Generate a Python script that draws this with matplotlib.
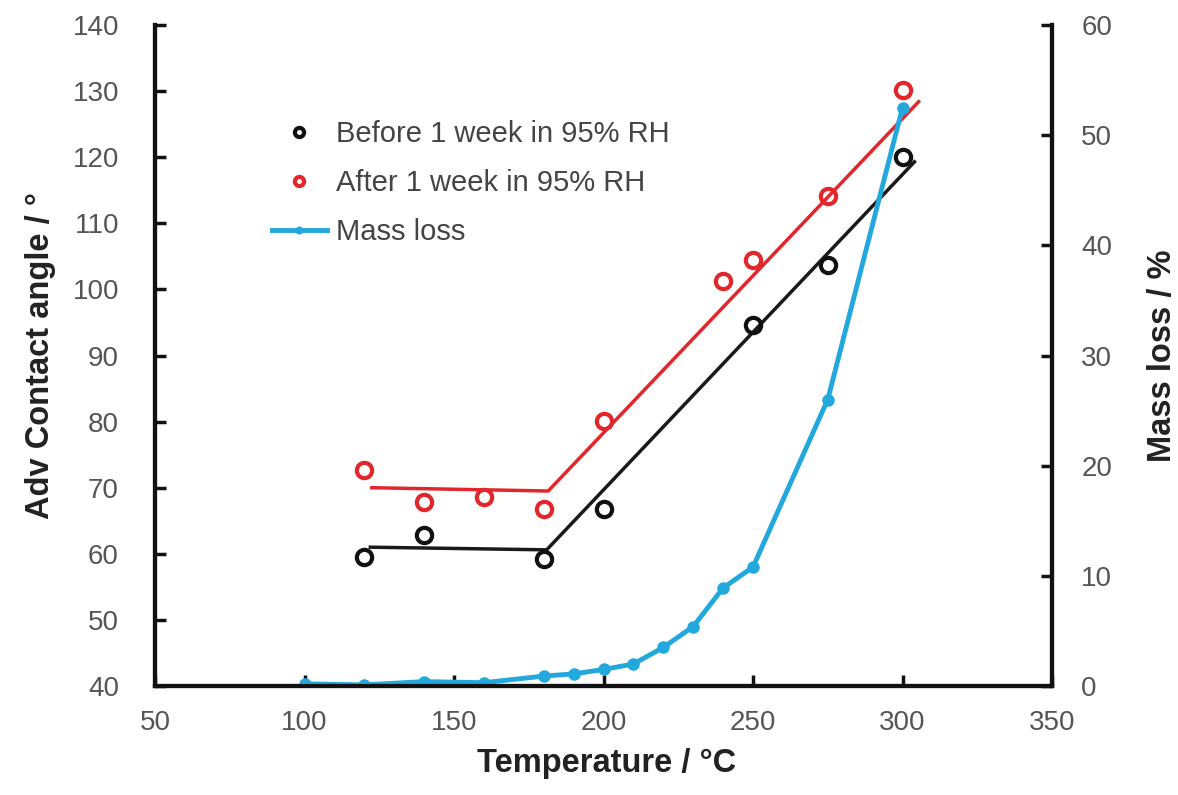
import matplotlib.pyplot as plt
import numpy as np

plt.rcParams['font.family'] = ['Liberation Sans', 'DejaVu Sans']

# contact angle data
temp_pts = [120, 140, 180, 200, 250, 275, 300]
before = [59.5, 62.8, 59.2, 66.8, 94.6, 103.7, 120.0]
temp_after = [120, 140, 160, 180, 200, 240, 250, 275, 300]
after = [72.7, 67.8, 68.6, 66.8, 80.1, 101.3, 104.4, 114.1, 130.2]

# fitted trend lines (vertices)
fit_before_x = [122, 181, 304]
fit_before_y = [61.0, 60.6, 119.3]
fit_after_x = [122.5, 181.5, 305.4]
fit_after_y = [70.0, 69.5, 128.4]

# mass loss data
temp_mass = [100, 120, 140, 160, 180, 190, 200, 210, 220, 230, 240, 250, 275, 300]
mass_loss = [0.2, 0.1, 0.4, 0.3, 0.9, 1.1, 1.5, 2.0, 3.5, 5.4, 8.9, 10.8, 26.0, 52.5]

red = '#e3262b'
blue = '#23a8dd'
tick_col = '#555555'

fig = plt.figure(figsize=(11.78, 7.95), dpi=100)
ax = fig.add_axes([155 / 1178, 109 / 795, 897 / 1178, 661 / 795])
ax2 = ax.twinx()

ax.plot(fit_after_x, fit_after_y, color=red, lw=2.5, zorder=2)
ax.plot(fit_before_x, fit_before_y, color='#1a1a1a', lw=2.5, zorder=2)
h1, = ax.plot(temp_pts, before, 'o', ms=11, mfc='none', mec='#111111', mew=3,
              label='Before 1 week in 95% RH', zorder=3)
h2, = ax.plot(temp_after, after, 'o', ms=11, mfc='none', mec=red, mew=3,
              label='After 1 week in 95% RH', zorder=3)
h3, = ax2.plot(temp_mass, mass_loss, '-o', color=blue, lw=3.5, ms=8,
               label='Mass loss')

ax.set_xlim(50, 350)
ax.set_ylim(40, 140)
ax2.set_ylim(0, 60)
ax.set_xticks(np.arange(50, 351, 50))
ax.set_yticks(np.arange(40, 141, 10))
ax2.set_yticks(np.arange(0, 61, 10))

for a in (ax, ax2):
    a.spines['top'].set_visible(False)
    for s in a.spines.values():
        s.set_linewidth(3)
        s.set_color('#111111')
    a.tick_params(direction='in', length=8, width=2.5, colors='#111111',
                  labelcolor=tick_col, labelsize=20)
ax.tick_params(axis='y', pad=26)
ax.tick_params(axis='x', pad=17)
ax2.tick_params(axis='y', pad=21)

ax.set_xlabel('Temperature / \u00b0C', fontsize=23.5, fontweight='bold',
              color='#222222')
ax.set_ylabel('Adv Contact angle / \u00b0', fontsize=23.5, fontweight='bold',
              color='#222222')
ax2.set_ylabel('Mass loss / %', fontsize=23.5, fontweight='bold',
               color='#222222')
ax.xaxis.set_label_coords(0.503, -0.094)
ax.yaxis.set_label_coords(-0.110, 0.5)
ax2.yaxis.set_label_coords(1.106, 0.5)

ax.legend(handles=[h1, h2, h3], loc='upper left', bbox_to_anchor=(0.13, 0.856),
          frameon=False, fontsize=21, labelcolor='#444444', handlelength=1.9,
          handletextpad=0.3, labelspacing=0.72, borderpad=0, borderaxespad=0,
          markerscale=0.6)

fig.savefig('out.png', dpi=100)
